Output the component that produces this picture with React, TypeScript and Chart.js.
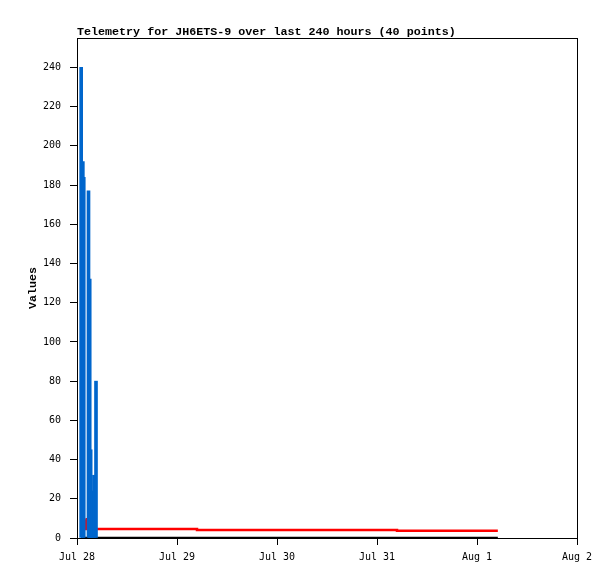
import React, { useEffect, useRef } from 'react';
import { Chart, registerables } from 'chart.js';

Chart.register(...registerables);

const chartTitle = 'Telemetry for JH6ETS-9 over last 240 hours (40 points)';
const yAxisTitle = 'Values';
const dayLabels = ['Jul 28', 'Jul 29', 'Jul 30', 'Jul 31', 'Aug 1', 'Aug 2'];
const hoursPerDay = 24;
const yMax = 255;
const yStep = 20;

// blue series (hours since Jul 28 00:00, values)
const blueHours = [1.0, 1.4, 1.62, 2.76, 3.05, 3.28, 3.5, 3.72, 4.08, 4.56];
const blueValues = [240, 192, 184, 177, 132, 45, 13, 24, 32, 80];

// red series (stepped)
const redHours = [2.02, 2.2, 28.8, 76.8, 101];
const redValues = [9.5, 4.6, 4.1, 3.7, 3.7];

// black series
const blackHours = [1.0, 101];
const blackValues = [0, 0];

const W = 615;
const H = 579;

const framePlugin = {
  id: 'frameAndTitles',
  afterDraw(chart: any) {
    const { ctx, chartArea } = chart;
    ctx.save();
    ctx.strokeStyle = '#000';
    ctx.lineWidth = 1;
    ctx.strokeRect(
      Math.round(chartArea.left) + 0.5,
      Math.round(chartArea.top) + 0.5,
      Math.round(chartArea.right - chartArea.left),
      Math.round(chartArea.bottom - chartArea.top)
    );
    ctx.fillStyle = '#000';
    ctx.font = 'bold 11.7px "Liberation Mono"';
    ctx.textAlign = 'left';
    ctx.textBaseline = 'alphabetic';
    ctx.fillText(chartTitle, chartArea.left, 35);
    ctx.translate(36, (chartArea.top + chartArea.bottom) / 2);
    ctx.rotate(-Math.PI / 2);
    ctx.textAlign = 'center';
    ctx.fillText(yAxisTitle, 0, 0);
    ctx.restore();
  },
};

export default function App() {
  const ref = useRef<HTMLCanvasElement | null>(null);

  useEffect(() => {
    if (!ref.current) return;
    const chart = new Chart(ref.current, {
      type: 'bar',
      data: {
        datasets: [
          {
            type: 'bar',
            data: blueHours.map((x, i) => ({ x, y: blueValues[i] })),
            backgroundColor: '#0066cc',
            borderWidth: 0,
            barThickness: 3,
            grouped: false,
            order: 0,
          } as any,
          {
            type: 'line',
            data: redHours.map((x, i) => ({ x, y: redValues[i] })),
            borderColor: '#ff0000',
            borderWidth: 2.5,
            pointRadius: 0,
            stepped: 'before',
            order: 1,
          } as any,
          {
            type: 'line',
            data: blackHours.map((x, i) => ({ x, y: blackValues[i] })),
            borderColor: '#000000',
            borderWidth: 2.5,
            pointRadius: 0,
            order: 2,
          } as any,
        ],
      },
      options: {
        responsive: false,
        animation: false,
        layout: { padding: { top: 38, right: 38, left: 0, bottom: 0 } },
        plugins: {
          legend: { display: false },
          tooltip: { enabled: false },
          title: { display: false },
        },
        scales: {
          x: {
            type: 'linear',
            offset: false,
            min: 0,
            max: hoursPerDay * (dayLabels.length - 1),
            afterFit: (s: any) => {
              s.height = 41;
            },
            afterBuildTicks: (s: any) => {
              s.ticks = s.ticks.filter((t: any) => t.value % hoursPerDay === 0);
            },
            ticks: {
              stepSize: hoursPerDay,
              autoSkip: false,
              maxRotation: 0,
              padding: 6,
              color: '#000',
              font: { family: 'DejaVu Sans Mono', size: 10 },
              callback: (v: any) => dayLabels[Math.round(Number(v) / hoursPerDay)] ?? '',
            },
            grid: {
              display: true,
              offset: false,
              drawOnChartArea: false,
              drawTicks: true,
              tickLength: 7,
              color: '#000',
            },
            border: { display: true, color: '#000', width: 1 },
          },
          y: {
            type: 'linear',
            min: 0,
            max: yMax,
            afterFit: (s: any) => {
              s.width = 77;
            },
            afterBuildTicks: (s: any) => {
              s.ticks = s.ticks.filter((t: any) => t.value % yStep === 0);
            },
            ticks: {
              stepSize: yStep,
              padding: 9,
              color: '#000',
              font: { family: 'DejaVu Sans Mono', size: 10 },
            },
            grid: {
              display: true,
              drawOnChartArea: false,
              drawTicks: true,
              tickLength: 7,
              color: '#000',
            },
            border: { display: true, color: '#000', width: 1 },
          },
        },
      } as any,
      plugins: [framePlugin],
    });
    return () => chart.destroy();
  }, []);

  return (
    <div style={{ position: 'fixed', left: 0, top: 0, width: W, height: H, background: '#fff' }}>
      <canvas ref={ref} width={W} height={H} style={{ width: W, height: H, display: 'block' }} />
    </div>
  );
}
